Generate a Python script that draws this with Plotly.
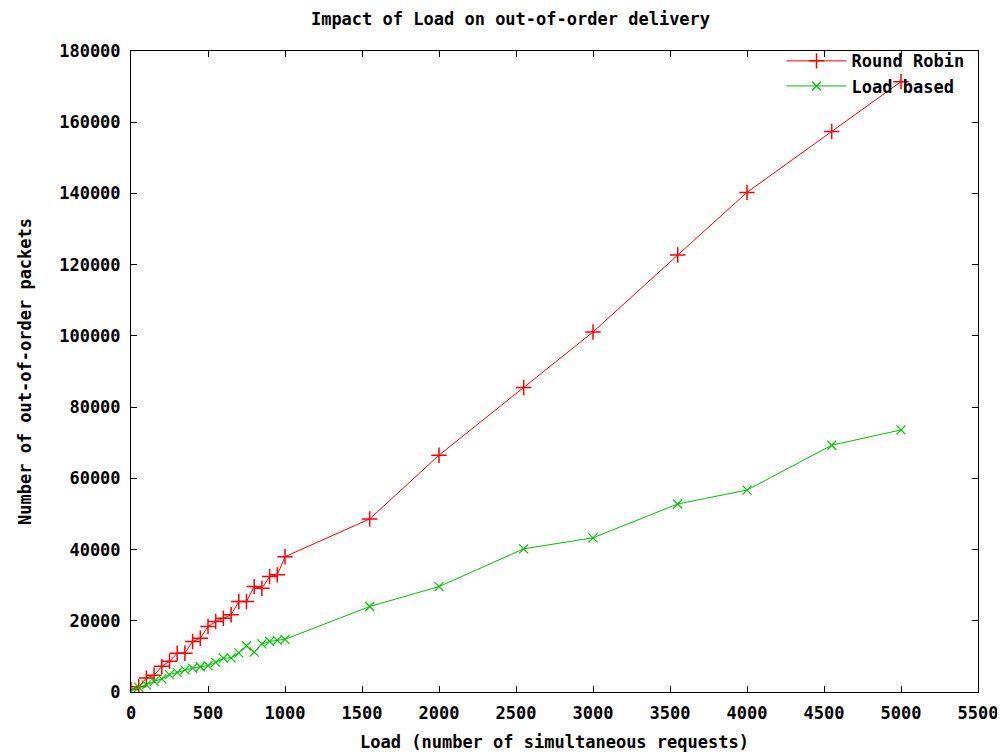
import plotly.graph_objects as go

# Data
load_rr = [0, 50, 100, 150, 200, 250, 300, 350, 400, 450, 500, 550, 600, 650, 700,
           750, 800, 850, 900, 950, 1000, 1550, 2000, 2550, 3000, 3550, 4000, 4550, 5000]
round_robin = [700, 1450, 3900, 4700, 7200, 8600, 10900, 10900, 14200, 15100, 18400,
               19800, 20700, 21700, 25400, 25400, 29600, 29100, 32400, 32900, 38000,
               48600, 66500, 85500, 101100, 122700, 140300, 157400, 171400]

load_lb = [0, 50, 100, 150, 200, 250, 300, 350, 400, 450, 500, 550, 600, 650, 700,
           750, 800, 850, 900, 950, 1000, 1550, 2000, 2550, 3000, 3550, 4000, 4550, 5000]
load_based = [300, 1300, 2000, 3000, 3700, 4900, 5500, 6200, 6700, 7100, 7400, 8300,
              9500, 9600, 11000, 13000, 11200, 13500, 14200, 14500, 14800,
              24000, 29600, 40200, 43300, 52800, 56700, 69300, 73600]

x_ticks = list(range(0, 5501, 500))
y_ticks = list(range(0, 180001, 20000))

FONT = "DejaVu Sans Mono"


def bold_font(size=17):
    return dict(family=FONT, size=size, color="black", weight="bold")


fig = go.Figure()
fig.add_trace(go.Scatter(
    x=load_rr, y=round_robin, name="Round Robin", mode="lines+markers",
    line=dict(color="#ff0000", width=1),
    marker=dict(symbol="cross-thin-open", size=11, line=dict(color="#ff0000", width=1.5)),
))
fig.add_trace(go.Scatter(
    x=load_lb, y=load_based, name="Load based", mode="lines+markers",
    line=dict(color="#00c000", width=1),
    marker=dict(symbol="x-thin-open", size=9, line=dict(color="#00c000", width=1.2)),
))

axis_common = dict(
    showgrid=False, zeroline=False, showline=True, linecolor="black", linewidth=1,
    mirror="ticks", ticks="inside", ticklen=6, tickcolor="black", tickwidth=1,
    tickfont=bold_font(), automargin=False, ticklabelstandoff=6,
)

fig.update_layout(
    width=1005, height=754,
    margin=dict(l=123, r=35, t=43, b=70),
    paper_bgcolor="white", plot_bgcolor="white",
    font=bold_font(),
    title=dict(text="Impact of Load on out-of-order delivery", x=0.5, xanchor="center",
               y=0.985, yanchor="middle", font=bold_font()),
    xaxis=dict(range=[0, 5500], tickvals=x_ticks, ticktext=[str(v) for v in x_ticks],
               title=dict(text="Load (number of simultaneous requests)", standoff=13,
                          font=bold_font()),
               **axis_common),
    yaxis=dict(range=[0, 180000], tickvals=y_ticks, ticktext=[str(v) for v in y_ticks],
               title=dict(text="Number of out-of-order packets", standoff=23,
                          font=bold_font()),
               **axis_common),
    legend=dict(x=0.99, y=1.012, xanchor="right", yanchor="top", bgcolor="rgba(0,0,0,0)",
                font=bold_font(), tracegroupgap=0, itemwidth=60),
)

fig.write_html("out.html")
